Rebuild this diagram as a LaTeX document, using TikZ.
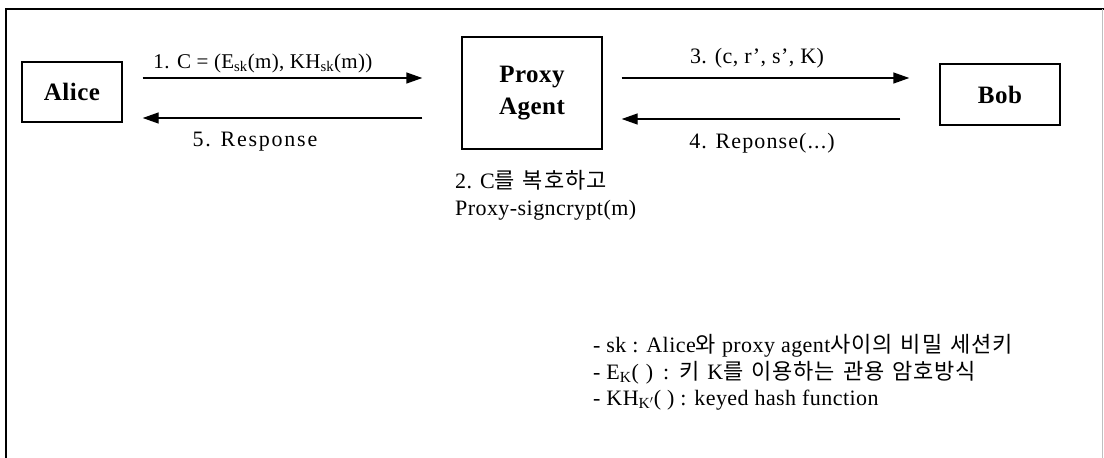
\documentclass[tikz,border=0pt]{standalone}
\usepackage{fontspec}
\setmainfont{Liberation Serif}[LetterSpace=2]
\newfontfamily\krf{Noto Sans CJK KR}[LetterSpace=4]
\newcommand{\kr}{\fontsize{22}{26}\selectfont\krf}
\newcommand{\ksp}{\hspace{8pt}}
\usetikzlibrary{arrows.meta}
\tikzset{
  box/.style={draw, line width=1.4pt, inner sep=0pt, font=\fontsize{25}{31}\selectfont\bfseries, align=center},
  arr/.style={line width=1.4pt, -{Triangle[length=16pt,width=11pt]}},
  lbl/.style={anchor=base, inner sep=0pt, font=\fontsize{22}{26}\selectfont},
  leg/.style={anchor=base west, inner sep=0pt, font=\fontsize{22}{26}\selectfont},
}
\begin{document}
\begin{tikzpicture}[x=1pt,y=-1pt]
\useasboundingbox (0,0) rectangle (1104,458);
\draw[line width=1.3pt] (6,458) -- (6,9) -- (1104,9);
\draw[line width=0.6pt, black!25] (1102,9) -- (1102,458);

\node[box, minimum width=100pt, minimum height=60pt] (alice) at (72,92) {Alice};
\node[box, minimum width=140pt, minimum height=112pt] (proxy) at (532,93) {Proxy\\[1pt]Agent};
\node[box, minimum width=120pt, minimum height=61pt] (bob) at (1000,94.5) {Bob};

\draw[arr, shorten <=20pt, shorten >=39pt] ([yshift=14pt]alice.east) -- ([yshift=15pt]proxy.west);
\draw[arr, shorten <=39pt, shorten >=20pt] ([yshift=-25pt]proxy.west) -- ([yshift=-26pt]alice.east);
\draw[arr, shorten <=19pt, shorten >=30pt] ([yshift=15pt]proxy.east) -- ([yshift=16.5pt]bob.west);
\draw[arr, shorten <=39pt, shorten >=19pt] ([yshift=-24.5pt]bob.west) -- ([yshift=-26pt]proxy.east);

\node[lbl, font=\fontsize{21}{26}\selectfont] (l1) at (263,68) {\addfontfeature{LetterSpace=1.6}1. C = (E$_{\mathrm{sk}}$(m), KH$_{\mathrm{sk}}$(m))};
\node[lbl] (l5) at (255,146) {\addfontfeature{LetterSpace=8}5. Response};
\node[lbl] (l3) at (757,63) {3. (c, r', s', K)};
\node[lbl] (l4) at (762,148) {\addfontfeature{LetterSpace=5}4. Reponse(...)};

\node[leg] (s2a) at (455,188) {2. C{\kr 를\ksp 복호하고}};
\node[leg] (s2b) at (455,215) {Proxy-signcrypt(m)};

\node[leg] (g1) at (593,352) {- sk : Alice{\kr 와} proxy agent{\kr 사이의\ksp 비밀\ksp 세션키}};
\node[leg] (g2) at (593,379) {- E$_{\mathrm{K}}$(\hspace{7pt}) \hspace{4pt}:\hspace{2pt} {\kr 키}\ksp K{\kr 를\ksp 이용하는\ksp 관용\ksp 암호방식}};
\node[leg] (g3) at (593,405) {- KH$_{\mathrm{K'}}$( ) : keyed hash function};
\end{tikzpicture}
\end{document}
